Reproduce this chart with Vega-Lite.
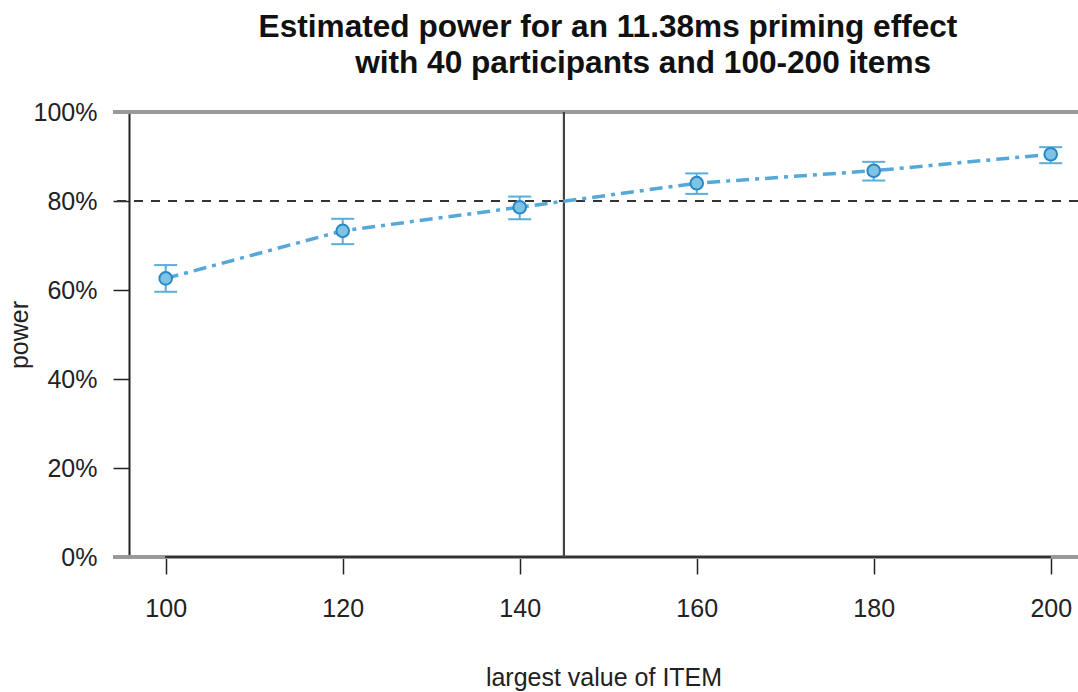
{
  "$schema": "https://vega.github.io/schema/vega-lite/v6.json",
  "width": 965,
  "height": 445,
  "autosize": {"type": "none"},
  "padding": {"left": 113, "top": 112, "right": 0, "bottom": 135},
  "background": "white",
  "config": {
    "view": {"stroke": null},
    "font": "Liberation Sans"
  },
  "title": {
    "text": ["Estimated power for an 11.38ms priming effect", "\u200b\u00a0\u00a0\u00a0\u00a0\u00a0\u00a0\u00a0\u00a0with 40 participants and 100-200 items"],
    "font": "Liberation Sans",
    "fontSize": 31.6,
    "fontWeight": "bold",
    "color": "#111111",
    "anchor": "middle",
    "frame": "group",
    "dx": 12.5,
    "dy": 44,
    "baseline": "alphabetic",
    "lineHeight": 36,
    "offset": 39
  },
  "data": {
    "values": [
      {"items": 100, "power": 0.626, "lo": 0.596, "hi": 0.656},
      {"items": 120, "power": 0.733, "lo": 0.703, "hi": 0.760},
      {"items": 140, "power": 0.786, "lo": 0.759, "hi": 0.810},
      {"items": 160, "power": 0.840, "lo": 0.816, "hi": 0.862},
      {"items": 180, "power": 0.868, "lo": 0.846, "hi": 0.888},
      {"items": 200, "power": 0.905, "lo": 0.885, "hi": 0.921}
    ]
  },
  "encoding": {
    "x": {
      "field": "items",
      "type": "quantitative",
      "scale": {"domain": [94.045, 203.08], "nice": false, "zero": false},
      "axis": {
        "title": "largest value of ITEM",
        "values": [100, 120, 140, 160, 180, 200],
        "domain": false,
        "grid": false,
        "tickSize": 17,
        "tickWidth": 1.5,
        "tickColor": "#222222",
        "labelFont": "Liberation Sans",
        "labelFontSize": 25,
        "labelColor": "#222222",
        "labelBaseline": "alphabetic",
        "labelPadding": 42,
        "titleFont": "Liberation Sans",
        "titleFontSize": 25,
        "titleFontWeight": "normal",
        "titleColor": "#222222",
        "titleBaseline": "alphabetic",
        "titleX": 490.5,
        "titleY": 128
      }
    },
    "y": {
      "field": "power",
      "type": "quantitative",
      "scale": {"domain": [0, 1], "nice": false},
      "axis": {
        "title": "power",
        "values": [0, 0.2, 0.4, 0.6, 0.8, 1],
        "format": ".0%",
        "offset": -16,
        "grid": false,
        "domain": true,
        "domainColor": "#222222",
        "domainWidth": 2,
        "tickSize": 16,
        "tickWidth": 1.5,
        "tickColor": "#222222",
        "labelFont": "Liberation Sans",
        "labelFontSize": 25,
        "labelColor": "#222222",
        "labelPadding": 16,
        "titleFont": "Liberation Sans",
        "titleFontSize": 25,
        "titleFontWeight": "normal",
        "titleColor": "#222222",
        "titleBaseline": "alphabetic",
        "titleAngle": -90,
        "titleX": -102
      }
    }
  },
  "layer": [
    {
      "mark": {"type": "rule", "color": "#999999", "strokeWidth": 3},
      "encoding": {"y": {"datum": 1, "type": "quantitative"}, "x": null}
    },
    {
      "mark": {"type": "rule", "color": "#999999", "strokeWidth": 3},
      "encoding": {"y": {"datum": 0, "type": "quantitative"}, "x": null}
    },
    {
      "mark": {"type": "rule", "color": "#333333", "strokeWidth": 2},
      "encoding": {
        "y": {"datum": 0, "type": "quantitative"},
        "x": {"datum": 100, "type": "quantitative"},
        "x2": {"datum": 200}
      }
    },
    {
      "mark": {"type": "rule", "color": "#333333", "strokeWidth": 2, "strokeDash": [9, 8]},
      "encoding": {"y": {"datum": 0.8, "type": "quantitative"}, "x": null}
    },
    {
      "mark": {"type": "rule", "color": "#444444", "strokeWidth": 2},
      "encoding": {"x": {"datum": 145, "type": "quantitative"}, "y": null}
    },
    {
      "mark": {"type": "rule", "color": "#5aaedb", "strokeWidth": 2},
      "encoding": {"y": {"field": "lo", "type": "quantitative"}, "y2": {"field": "hi"}}
    },
    {
      "mark": {"type": "tick", "orient": "horizontal", "color": "#5aaedb", "size": 23, "thickness": 2, "opacity": 1},
      "encoding": {"y": {"field": "lo", "type": "quantitative"}}
    },
    {
      "mark": {"type": "tick", "orient": "horizontal", "color": "#5aaedb", "size": 23, "thickness": 2, "opacity": 1},
      "encoding": {"y": {"field": "hi", "type": "quantitative"}}
    },
    {
      "mark": {"type": "line", "color": "#55a8d8", "strokeWidth": 3.5, "strokeDash": [13, 6, 4, 6]}
    },
    {
      "mark": {"type": "point", "filled": true, "fill": "#7cc3e6", "stroke": "#2a88c2", "strokeWidth": 2, "size": 160, "opacity": 1}
    }
  ]
}
